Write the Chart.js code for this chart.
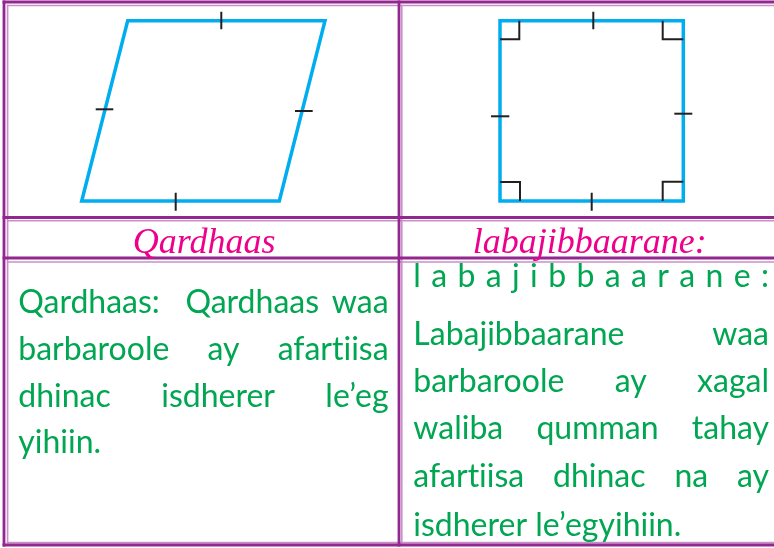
<!DOCTYPE html>
<html>
<head>
<meta charset="utf-8">
<script src="https://cdn.jsdelivr.net/npm/chart.js@4.4.1/dist/chart.umd.min.js"></script>
<style>
html,body{margin:0;padding:0;background:#ffffff;overflow:hidden}
canvas{display:block}
</style>
</head>
<body>
<canvas id="c" width="774" height="548"></canvas>
<script>
// ---------------- data ----------------
const captions = ["Qardhaas", "labajibbaarane:"];
const leftText = ["Qardhaas:  Qardhaas waa", "barbaroole ay afartiisa", "dhinac isdherer le’eg", "yihiin."];
const rightText = ["l a b a j i b b a a r a n e :", "Labajibbaarane waa", "barbaroole ay xagal", "waliba qumman tahay", "afartiisa dhinac na ay", "isdherer le’egyihiin."];

// figure vertices (chart data space)
const parallelogram = [[127.7,20.7],[325,20.7],[279.3,201],[81.7,201]];
const square = [[500,20.7],[683.3,20.7],[683.3,201],[500,201]];
// equal-side tick marks
const parallelogramTicks = [
  [[221.3,11.7],[221.3,29.3]],
  [[175.7,192.7],[175.7,210.7]],
  [[95.7,109.3],[113.3,109.3]],
  [[295,111],[312.7,111]]
];
const squareTicks = [
  [[593.3,11.7],[593.3,29.3]],
  [[591.7,192.7],[591.7,210.7]],
  [[491,116.3],[509.3,116.3]],
  [[674.3,113.7],[692.3,113.7]]
];
// right-angle marks
const rightAngles = [
  [[500,39.3],[519.3,39.3],[519.3,20.7]],
  [[662.7,20.7],[662.7,39.3],[683.3,39.3]],
  [[500,182],[520,182],[520,201]],
  [[662.7,201],[662.7,181.7],[683.3,181.7]]
];

// ---------------- layout / style ----------------
const W = 774, H = 548;
const BLUE = '#00AEEF', INK = '#231F20', GREEN = '#00A651', PINK = '#EC008C';
const DARK = '#92278F', LIGHT = '#C98FC8';
const layout = {
  darkRows: [2, 217.5, 258, 545],
  darkCols: [4, 399],
  lightRows: [5.5, 220.8, 262, 542.6],
  lightCols: [7.6, 401.8],
  captionBase: 252.5,
  captionCenters: [204.2, 589.8],
  leftBox: [18.3, 388.6],
  rightBox: [413.3, 769],
  leftBases: [313.3, 360, 406.7, 453.3],
  rightBases: [287, 344.5, 391.7, 439, 487.3, 536]
};

const pts = a => a.map(([x,y]) => ({x, y}));
const closed = a => pts(a.concat([a[0], a[1]]));

const datasets = [];
parallelogramTicks.concat(squareTicks).forEach(seg => datasets.push({
  data: pts(seg), showLine: true, borderColor: INK, borderWidth: 2,
  pointRadius: 0, borderCapStyle: 'butt', clip: false
}));
rightAngles.forEach(seg => datasets.push({
  data: pts(seg), showLine: true, borderColor: INK, borderWidth: 2,
  pointRadius: 0, borderJoinStyle: 'miter', borderCapStyle: 'butt', clip: false
}));
[parallelogram, square].forEach(shape => datasets.push({
  data: closed(shape), showLine: true, borderColor: BLUE, borderWidth: 3.5,
  pointRadius: 0, borderJoinStyle: 'miter', borderCapStyle: 'butt', clip: false
}));

// break typographic ligatures (fi, ti, ff, fl, tt) with a zero-width non-joiner
const noLig = s => s.replace(/([ft])(?=[ifltj])/g, '$1\u200C');

function drawJustified(ctx, text, left, right, base, justify) {
  ctx.textAlign = 'left';
  if (!justify) { ctx.fillText(noLig(text), left, base); return; }
  const tokens = text.split(' ').map(noLig);
  const widths = tokens.map(t => ctx.measureText(t).width);
  const total = widths.reduce((a,b)=>a+b, 0);
  const gap = (right - left - total) / (tokens.length - 1);
  let cx = left;
  tokens.forEach((t,i) => { if (t) ctx.fillText(t, cx, base); cx += widths[i] + gap; });
}

const tablePlugin = {
  id: 'table',
  beforeDatasetsDraw(chart) {
    const {ctx, scales: {x, y}} = chart;
    const X = v => x.getPixelForValue(v), Y = v => y.getPixelForValue(v);
    ctx.save();
    ctx.lineCap = 'butt';
    ctx.strokeStyle = LIGHT; ctx.lineWidth = 1.6;
    layout.lightRows.forEach(v => { ctx.beginPath(); ctx.moveTo(X(6.8), Y(v)); ctx.lineTo(X(W), Y(v)); ctx.stroke(); });
    layout.lightCols.forEach(v => { ctx.beginPath(); ctx.moveTo(X(v), Y(4.7)); ctx.lineTo(X(v), Y(543.4)); ctx.stroke(); });
    ctx.strokeStyle = DARK; ctx.lineWidth = 2.8;
    layout.darkRows.forEach(v => { ctx.beginPath(); ctx.moveTo(X(2.6), Y(v)); ctx.lineTo(X(W), Y(v)); ctx.stroke(); });
    layout.darkCols.forEach(v => { ctx.beginPath(); ctx.moveTo(X(v), Y(0.6)); ctx.lineTo(X(v), Y(546.4)); ctx.stroke(); });
    ctx.restore();
  },
  afterDatasetsDraw(chart) {
    const {ctx, scales: {x, y}} = chart;
    const X = v => x.getPixelForValue(v), Y = v => y.getPixelForValue(v);
    ctx.save();
    ctx.textBaseline = 'alphabetic';
    ctx.fillStyle = PINK;
    ctx.font = 'italic 36px "Liberation Serif", "Times New Roman", serif';
    ctx.textAlign = 'center';
    captions.forEach((c,i) => ctx.fillText(c, X(layout.captionCenters[i]), Y(layout.captionBase)));
    ctx.fillStyle = GREEN;
    ctx.font = '32px Lato, Carlito, Calibri, sans-serif';
    leftText.forEach((t,i) => drawJustified(ctx, t, X(layout.leftBox[0]), X(layout.leftBox[1]), Y(layout.leftBases[i]), i < leftText.length - 1));
    rightText.forEach((t,i) => drawJustified(ctx, t, X(layout.rightBox[0]), X(layout.rightBox[1]), Y(layout.rightBases[i]), i < rightText.length - 1));
    ctx.restore();
  }
};

function build() {
  new Chart(document.getElementById('c'), {
    type: 'scatter',
    data: { datasets },
    options: {
      responsive: false,
      animation: false,
      events: [],
      devicePixelRatio: 1,
      layout: { padding: 0 },
      scales: {
        x: { type: 'linear', min: 0, max: W, display: false },
        y: { type: 'linear', min: 0, max: H, reverse: true, display: false }
      },
      plugins: { legend: { display: false }, tooltip: { enabled: false } }
    },
    plugins: [tablePlugin]
  });
}
Promise.all([
  document.fonts.load('32px Lato'),
  document.fonts.load('italic 36px "Liberation Serif"')
]).then(build, build);
</script>
</body>
</html>
